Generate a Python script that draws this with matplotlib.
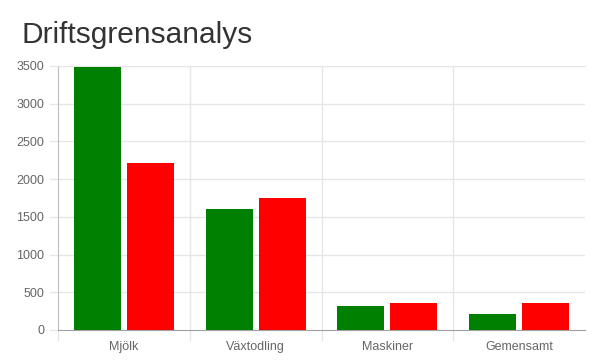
import matplotlib
matplotlib.use("Agg")
import matplotlib.pyplot as plt
import numpy as np

plt.rcParams["font.family"] = ["Liberation Sans", "DejaVu Sans"]

categories = ["Mjölk", "Växtodling", "Maskiner", "Gemensamt"]
green_values = [3490, 1600, 320, 212]
red_values = [2210, 1750, 358, 358]
y_ticks = [0, 500, 1000, 1500, 2000, 2500, 3000, 3500]

W, H = 606, 360
fig = plt.figure(figsize=(W / 100, H / 100), dpi=100)
left, right, top, bottom = 58, 585, 66, 330
ax = fig.add_axes([left / W, 1 - bottom / H, (right - left) / W, (bottom - top) / H])

x = np.arange(len(categories))
bw = 0.357
off = 26.5 / 131.75
ax.bar(x - off, green_values, width=bw, color="#008000", zorder=3)
ax.bar(x + off, red_values, width=bw, color="#ff0000", zorder=3)

ax.set_xlim(-0.5, len(categories) - 0.5)
ax.set_ylim(0, 3500)
ax.set_yticks(y_ticks)
ax.set_yticklabels([str(v) for v in y_ticks])
ax.set_xticks(x)
ax.set_xticklabels(categories)
ax.tick_params(axis="both", length=0, labelsize=9, colors="#666666")
ax.tick_params(axis="y", pad=10)
ax.tick_params(axis="x", pad=8)

for v in y_ticks[1:]:
    ax.axhline(v, color="#e6e6e6", lw=1, zorder=1)
    ax.plot([-0.5 - 8 / 131.75, -0.5], [v, v], color="#e6e6e6", lw=1, clip_on=False)
for b in np.arange(0.5, len(categories) - 0.5, 1):
    ax.axvline(b, color="#e6e6e6", lw=1, zorder=1)
for b in np.arange(-0.5, len(categories) - 0.5, 1):
    ax.plot([b, b], [0, -10 / 264 * 3500], color="#e6e6e6", lw=1, clip_on=False)
ax.plot([-0.5 - 8 / 131.75, -0.5], [0, 0], color="#e6e6e6", lw=1, clip_on=False)

ax.spines["left"].set_color("#bdbdbd")
ax.spines["bottom"].set_color("#a0a0a0")
ax.spines["right"].set_visible(False)
ax.spines["top"].set_color("#e6e6e6")

fig.text(22 / W, 1 - 43 / H, "Driftsgrensanalys", fontsize=21.5, color="#333333",
         ha="left", va="baseline")

fig.savefig("out.png", dpi=100)
